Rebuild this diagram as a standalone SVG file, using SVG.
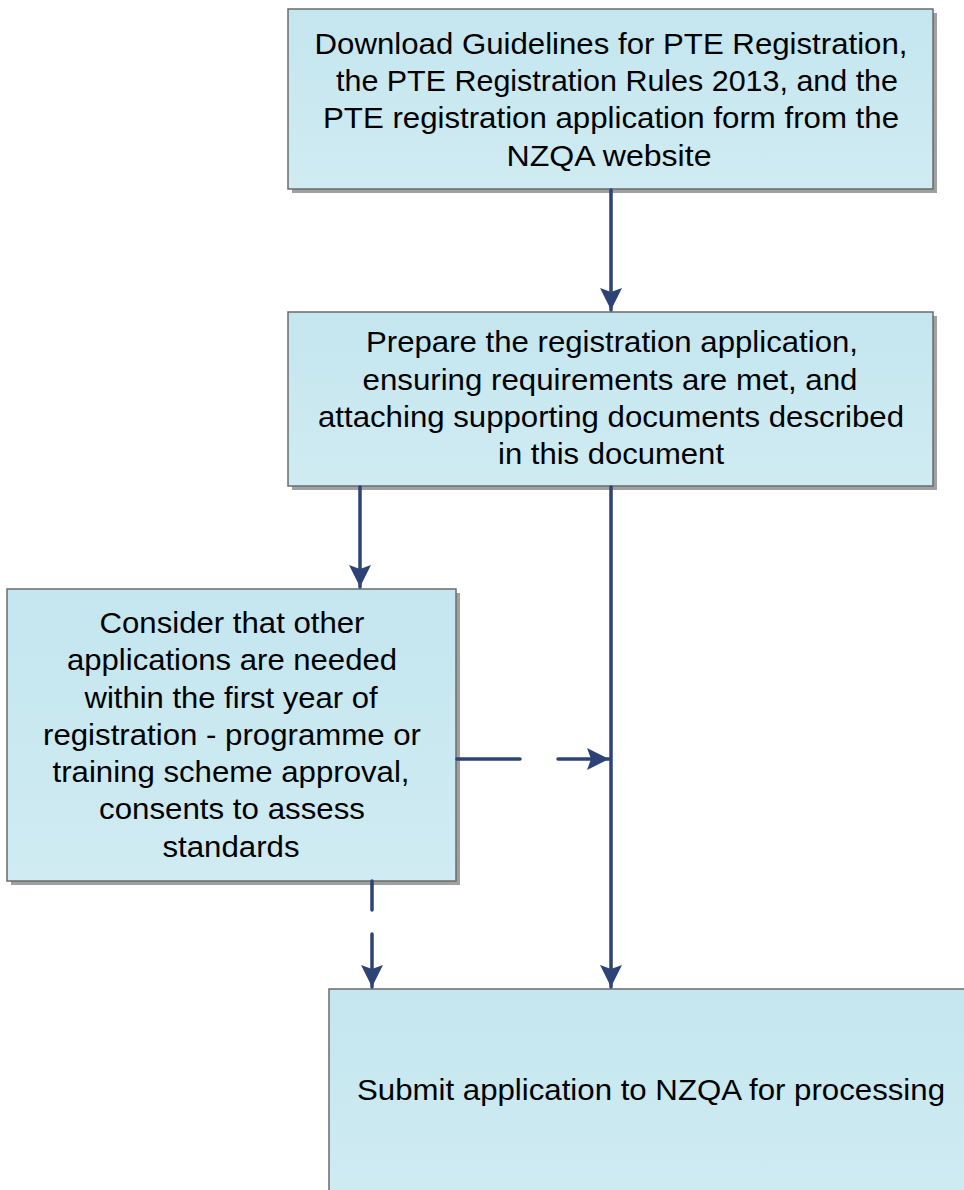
<svg xmlns="http://www.w3.org/2000/svg" width="964" height="1190" viewBox="0 0 964 1190">
<style>
.box{stroke:#6b6b6b;stroke-width:1.5;fill:url(#g)}
.sh{fill:#a0a0a0}
.t{font-family:"Liberation Sans",Arial,sans-serif;font-size:29px;fill:#000;text-anchor:middle}
.t4{font-size:30px}
.c{stroke:#2e4375;stroke-width:3.5;fill:none;stroke-linecap:round}
</style>
<defs>
<linearGradient id="g" x1="0" y1="0" x2="0" y2="1">
<stop offset="0" stop-color="#c4e6ef"/>
<stop offset="1" stop-color="#d0ebf2"/>
</linearGradient>
<marker id="a" markerUnits="userSpaceOnUse" markerWidth="24" markerHeight="24" viewBox="0 0 24 24" refX="22" refY="12" orient="auto">
<path d="M0,1 L22,12 L0,23 L4,12 Z" fill="#2e4375"/>
</marker>
</defs>
<g id="n1">
<rect class="sh" x="292" y="13" width="645" height="180"/>
<rect class="box" x="288" y="9" width="645" height="180"/>
<text class="t" x="611" y="54" textLength="593" lengthAdjust="spacingAndGlyphs">Download Guidelines for PTE Registration,</text>
<text class="t" x="617" y="91" textLength="562" lengthAdjust="spacingAndGlyphs">the PTE Registration Rules 2013, and the</text>
<text class="t" x="611" y="128" textLength="576" lengthAdjust="spacingAndGlyphs">PTE registration application form from the</text>
<text class="t" x="609" y="166" textLength="205" lengthAdjust="spacingAndGlyphs">NZQA website</text>
</g>
<g id="n2">
<rect class="sh" x="292" y="316" width="645" height="174"/>
<rect class="box" x="288" y="312" width="645" height="174"/>
<text class="t" x="612" y="352" textLength="492" lengthAdjust="spacingAndGlyphs">Prepare the registration application,</text>
<text class="t" x="610" y="390" textLength="495" lengthAdjust="spacingAndGlyphs">ensuring requirements are met, and</text>
<text class="t" x="611" y="427" textLength="586" lengthAdjust="spacingAndGlyphs">attaching supporting documents described</text>
<text class="t" x="611" y="464" textLength="226" lengthAdjust="spacingAndGlyphs">in this document</text>
</g>
<g id="n3">
<rect class="sh" x="11" y="593" width="449" height="292"/>
<rect class="box" x="7" y="589" width="449" height="292"/>
<text class="t" x="232" y="633" textLength="265" lengthAdjust="spacingAndGlyphs">Consider that other</text>
<text class="t" x="232" y="670" textLength="330" lengthAdjust="spacingAndGlyphs">applications are needed</text>
<text class="t" x="231" y="708" textLength="293" lengthAdjust="spacingAndGlyphs">within the first year of</text>
<text class="t" x="232" y="745" textLength="378" lengthAdjust="spacingAndGlyphs">registration - programme or</text>
<text class="t" x="231" y="782" textLength="357" lengthAdjust="spacingAndGlyphs">training scheme approval,</text>
<text class="t" x="232" y="819" textLength="266" lengthAdjust="spacingAndGlyphs">consents to assess</text>
<text class="t" x="231" y="857" textLength="137" lengthAdjust="spacingAndGlyphs">standards</text>
</g>
<g id="n4">
<rect class="box" x="329" y="989" width="645" height="215"/>
<text class="t t4" x="651" y="1100" textLength="588" lengthAdjust="spacingAndGlyphs">Submit application to NZQA for processing</text>
</g>
<g id="connectors">
<line class="c" x1="611" y1="190" x2="611" y2="310" marker-end="url(#a)"/>
<line class="c" x1="360" y1="487" x2="360" y2="587" marker-end="url(#a)"/>
<line class="c" x1="611" y1="487" x2="611" y2="987" marker-end="url(#a)"/>
<line class="c" x1="457" y1="759" x2="520" y2="759"/>
<line class="c" x1="558" y1="759" x2="609" y2="759" marker-end="url(#a)"/>
<line class="c" x1="372" y1="881" x2="372" y2="910"/>
<line class="c" x1="372" y1="934" x2="372" y2="987" marker-end="url(#a)"/>
</g>
</svg>
